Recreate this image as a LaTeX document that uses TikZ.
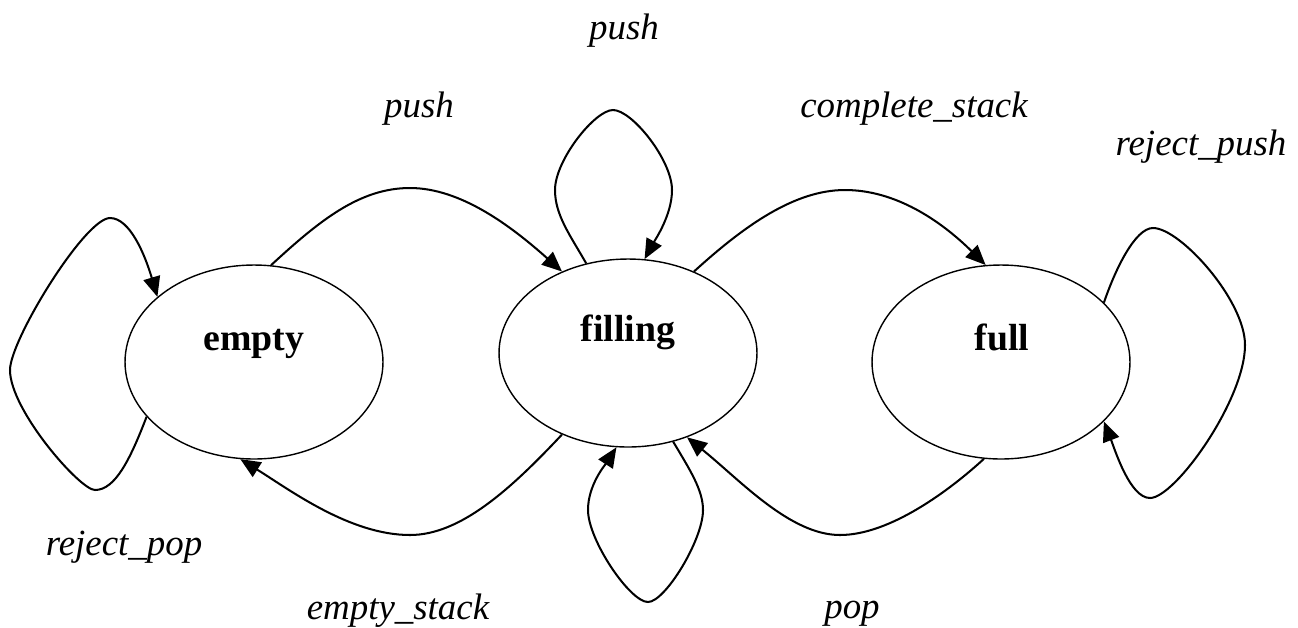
\documentclass[tikz,border=0pt]{standalone}
\usepackage{fontspec}
\setmainfont{Liberation Serif}
\usetikzlibrary{shapes.geometric,arrows.meta}
\begin{document}
\begin{tikzpicture}[x=0.02cm,y=-0.02cm,
  state/.style={draw,ellipse,line width=0.8pt,minimum width=5.16cm,minimum height=3.88cm,inner sep=0pt},
  stname/.style={anchor=base,font=\fontsize{21.5}{24}\selectfont\bfseries},
  lbl/.style={anchor=base,font=\fontsize{21}{24}\selectfont\itshape},
  edge/.style={line width=1.15pt,-{Triangle[length=0.4cm,width=0.34cm]}}]
\useasboundingbox (0,0) rectangle (1298,627);
\node[state] (empty) at (254,362) {};
\node[state,minimum height=3.76cm] (filling) at (628,353) {};
\node[state] (full) at (1001,362) {};
\node[stname] (emptytxt) at (254,350) {empty};
\node[stname] (fillingtxt) at (628,341) {filling};
\node[stname] (fulltxt) at (1002,350) {full};
% labels
\node[lbl] (l1) at (624,39) {push};
\node[lbl] (l2) at (419,117) {push};
\node[lbl] (l3) at (914,117) {complete\_stack};
\node[lbl] (l4) at (1201,155) {reject\_push};
\node[lbl] (l5) at (124,555) {reject\_pop};
\node[lbl] (l6) at (398,619) {empty\_stack};
\node[lbl] (l7) at (852,618) {pop};
% empty -> filling
\draw[edge] (empty.80) .. controls (320,220) and (360,188) .. (410,188)
  .. controls (460,188) and (510,225) .. (filling.129);
% filling -> full
\draw[edge] (filling.51) .. controls (745,225) and (795,190) .. (845,190)
  .. controls (895,190) and (940,220) .. (full.99);
% filling -> empty
\draw[edge] (filling.231) .. controls (510,490) and (460,535) .. (410,535)
  .. controls (350,535) and (290,490) .. (empty.262);
% full -> filling
\draw[edge] (full.260) .. controls (950,490) and (890,535) .. (840,535)
  .. controls (790,535) and (740,480) .. (filling.305);
% empty self loop
\draw[edge] (empty.207) .. controls (130,460) and (115,490) .. (95,490)
  .. controls (80,490) and (10,410) .. (10,370)
  .. controls (10,340) and (85,218) .. (110,218)
  .. controls (130,218) and (145,255) .. (empty.146);
% filling top loop
\draw[edge] (filling.115) .. controls (570,235) and (555,215) .. (555,190)
  .. controls (555,160) and (595,110) .. (613,110)
  .. controls (632,110) and (672,160) .. (672,190)
  .. controls (672,215) and (655,240) .. (filling.80);
% filling bottom loop
\draw[edge] (filling.297) .. controls (690,470) and (703,490) .. (703,510)
  .. controls (703,540) and (665,602) .. (648,602)
  .. controls (630,602) and (588,540) .. (588,510)
  .. controls (588,485) and (605,465) .. (filling.263);
% full self loop
\draw[edge] (full.30) .. controls (1115,270) and (1135,228) .. (1153,228)
  .. controls (1180,228) and (1245,300) .. (1245,345)
  .. controls (1245,400) and (1175,498) .. (1150,498)
  .. controls (1130,498) and (1115,450) .. (full.330);
\end{tikzpicture}
\end{document}
